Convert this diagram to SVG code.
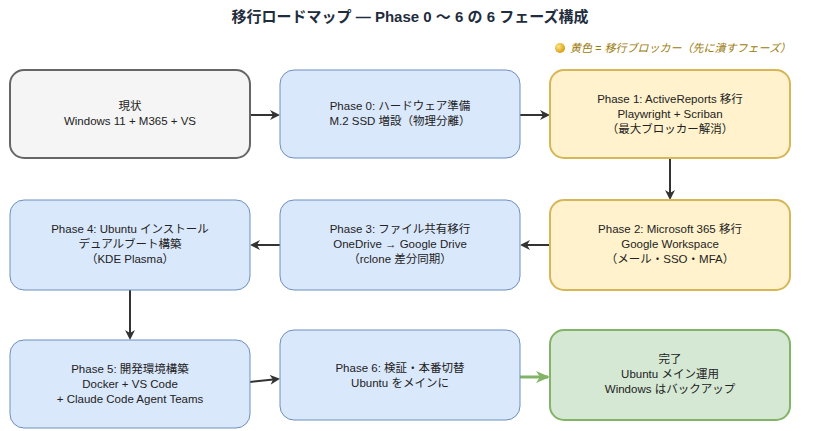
<svg xmlns="http://www.w3.org/2000/svg" width="820" height="431" viewBox="0 0 820 431">
<style>
text{font-family:"Liberation Sans","Noto Sans CJK JP",sans-serif;font-size:11.5px;fill:#222;text-anchor:middle}
.t{font-size:15px;font-weight:bold;fill:#1f2d3d}
.lg{font-size:11px;font-style:italic;fill:#9a7a0a;text-anchor:start}
.g{fill:#f5f5f5;stroke:#666;stroke-width:2}
.b{fill:#dae8fc;stroke:#6c8ebf;stroke-width:1}
.y{fill:#fff2cc;stroke:#d6b656;stroke-width:2}
.gr{fill:#d5e8d4;stroke:#82b366;stroke-width:2}
.c{stroke:#333;stroke-width:2;fill:none;marker-end:url(#a)}
.cg{stroke:#82b366;stroke-width:3;fill:none;marker-end:url(#ag)}
</style>
<defs>
<marker id="a" markerWidth="10" markerHeight="10" refX="8" refY="5" orient="auto" markerUnits="userSpaceOnUse"><path d="M0,0 L10,5 L0,10 L3,5 Z" fill="#333"/></marker>
<marker id="ag" markerWidth="14" markerHeight="12" refX="12" refY="6" orient="auto" markerUnits="userSpaceOnUse"><path d="M0,0 L14,6 L0,12 L4,6 Z" fill="#82b366"/></marker>
<radialGradient id="dot" cx="0.35" cy="0.35" r="0.7"><stop offset="0" stop-color="#ffe680"/><stop offset="1" stop-color="#d49a10"/></radialGradient>
</defs>
<text class="t" x="410" y="22">移行ロードマップ — Phase 0 〜 6 の 6 フェーズ構成</text>
<circle cx="560" cy="48" r="5" fill="url(#dot)"/>
<text class="lg" x="570" y="52">黄色 = 移行ブロッカー（先に潰すフェーズ）</text>
<g id="connectors">
<path class="c" d="M250,115 L278,115"/>
<path class="c" d="M520,115 L548,115"/>
<path class="c" d="M670,158 L670,198"/>
<path class="c" d="M550,245 L522,245"/>
<path class="c" d="M280,245 L252,245"/>
<path class="c" d="M130,290 L130,338"/>
<path class="c" d="M250,382 L278,379"/>
<path class="cg" d="M520,377 L548,377"/>
</g>
<g id="n0"><rect class="g" x="10" y="70" width="240" height="88" rx="14"/><text x="130" y="110">現状</text><text x="130" y="125">Windows 11 + M365 + VS</text></g>
<g id="n1"><rect class="b" x="280" y="70" width="240" height="88" rx="14"/><text x="400" y="110">Phase 0: ハードウェア準備</text><text x="400" y="125">M.2 SSD 増設（物理分離）</text></g>
<g id="n2"><rect class="y" x="550" y="70" width="240" height="88" rx="14"/><text x="670" y="103">Phase 1: ActiveReports 移行</text><text x="670" y="118">Playwright + Scriban</text><text x="670" y="133">（最大ブロッカー解消）</text></g>
<g id="n3"><rect class="y" x="550" y="200" width="240" height="90" rx="14"/><text x="670" y="233">Phase 2: Microsoft 365 移行</text><text x="670" y="248">Google Workspace</text><text x="670" y="263">（メール・SSO・MFA）</text></g>
<g id="n4"><rect class="b" x="280" y="200" width="240" height="90" rx="14"/><text x="400" y="233">Phase 3: ファイル共有移行</text><text x="400" y="248">OneDrive → Google Drive</text><text x="400" y="263">（rclone 差分同期）</text></g>
<g id="n5"><rect class="b" x="10" y="200" width="240" height="90" rx="14"/><text x="130" y="233">Phase 4: Ubuntu インストール</text><text x="130" y="248">デュアルブート構築</text><text x="130" y="263">（KDE Plasma）</text></g>
<g id="n6"><rect class="b" x="10" y="340" width="240" height="88" rx="14"/><text x="130" y="373">Phase 5: 開発環境構築</text><text x="130" y="388">Docker + VS Code</text><text x="130" y="403">+ Claude Code Agent Teams</text></g>
<g id="n7"><rect class="b" x="280" y="330" width="240" height="90" rx="14"/><text x="400" y="372">Phase 6: 検証・本番切替</text><text x="400" y="387">Ubuntu をメインに</text></g>
<g id="n8"><rect class="gr" x="550" y="330" width="240" height="90" rx="14"/><text x="670" y="363">完了</text><text x="670" y="378">Ubuntu メイン運用</text><text x="670" y="393">Windows はバックアップ</text></g>
</svg>
